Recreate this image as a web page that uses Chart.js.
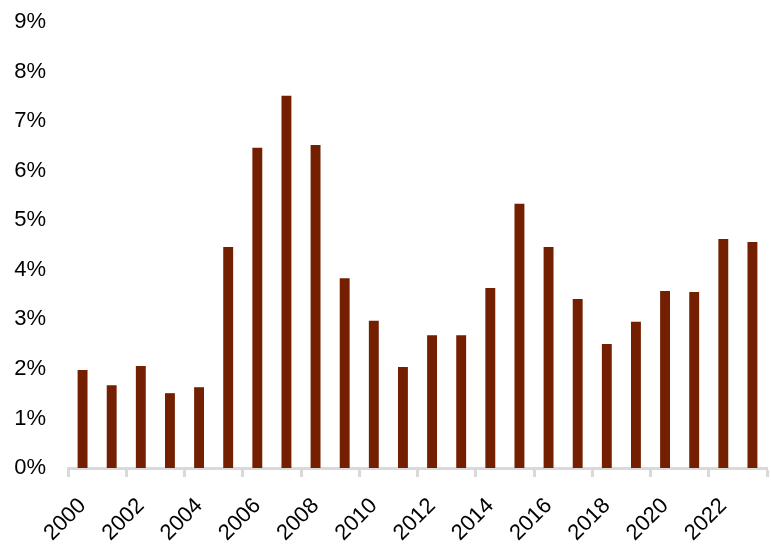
<!DOCTYPE html>
<html lang="en">
<head>
    <meta charset="UTF-8" />
    <title>Annual rate</title>
    <script src="https://cdn.jsdelivr.net/npm/chart.js"></script>
    <style>
        html, body { margin: 0; padding: 0; background: #fff; }
        #wrap { width: 771px; height: 558px; }
    </style>
</head>
<body>
    <div id="wrap"><canvas id="rateChart"></canvas></div>

    <script>
        const years = ['2000', '2001', '2002', '2003', '2004', '2005', '2006', '2007',
            '2008', '2009', '2010', '2011', '2012', '2013', '2014', '2015',
            '2016', '2017', '2018', '2019', '2020', '2021', '2022', '2023'];
        const rates = [1.98, 1.67, 2.06, 1.51, 1.63, 4.46, 6.46, 7.51,
            6.52, 3.83, 2.97, 2.04, 2.68, 2.68, 3.63, 5.33,
            4.46, 3.41, 2.50, 2.95, 3.57, 3.55, 4.62, 4.56];
        const yTicks = [0, 1, 2, 3, 4, 5, 6, 7, 8, 9];

        const axisGray = '#d9d9d9';

        new Chart(document.getElementById('rateChart'), {
            type: 'bar',
            data: {
                labels: years,
                datasets: [{
                    data: rates,
                    backgroundColor: '#731f00',
                    categoryPercentage: 1,
                    barPercentage: 0.34
                }]
            },
            options: {
                responsive: true,
                maintainAspectRatio: false,
                animation: false,
                layout: { padding: { top: 22, right: 4, left: 0, bottom: 0 } },
                plugins: {
                    legend: { display: false },
                    tooltip: { enabled: false }
                },
                scales: {
                    x: {
                        afterFit: axis => {
                            axis.height = 90;
                            axis.paddingLeft = 0;
                            axis.paddingRight = 0;
                        },
                        grid: {
                            offset: true,
                            drawOnChartArea: false,
                            drawTicks: true,
                            tickLength: 9,
                            tickWidth: 3,
                            tickColor: ctx => (ctx.index === undefined || ctx.index % 2 === 0) ? axisGray : 'rgba(0,0,0,0)'
                        },
                        border: { color: axisGray, width: 3 },
                        ticks: {
                            autoSkip: false,
                            maxRotation: 45,
                            minRotation: 45,
                            padding: 16,
                            color: '#000',
                            font: { family: 'Liberation Sans, Arial', size: 22 },
                            callback: (v, i) => i % 2 === 0 ? years[i] : ''
                        }
                    },
                    y: {
                        min: yTicks[0],
                        max: yTicks[yTicks.length - 1],
                        afterBuildTicks: axis => { axis.ticks = yTicks.map(v => ({ value: v })); },
                        afterFit: axis => {
                            axis.width = 68;
                            axis.paddingTop = 0;
                            axis.paddingBottom = 0;
                        },
                        grid: { display: false, drawTicks: false },
                        border: { display: false },
                        ticks: {
                            padding: 22,
                            color: '#000',
                            font: { family: 'Liberation Sans, Arial', size: 22 },
                            callback: v => v + '%'
                        }
                    }
                }
            }
        });
    </script>
</body>
</html>
